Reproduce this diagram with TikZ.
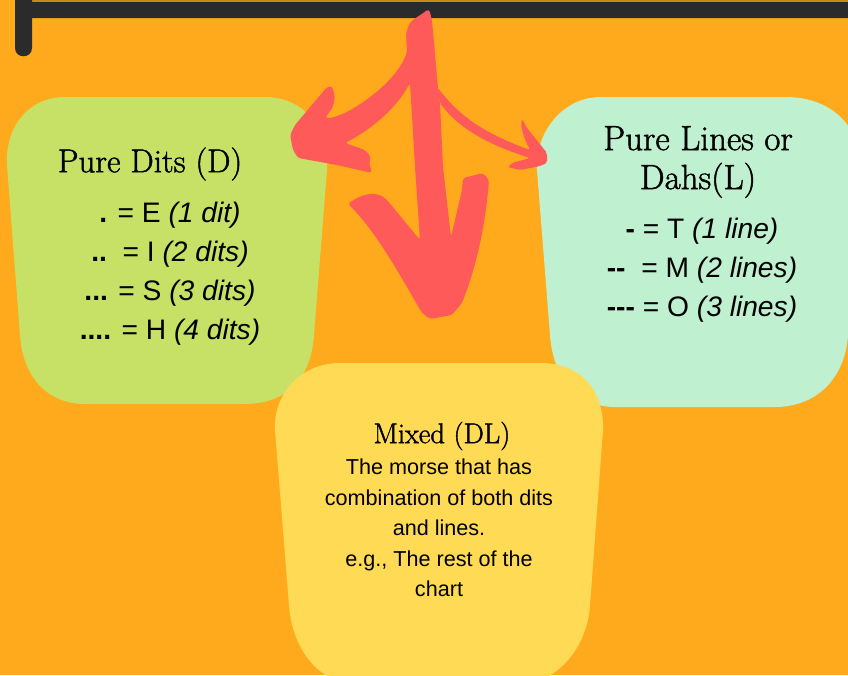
\documentclass[tikz,border=0pt]{standalone}
\usepackage{fontspec}
\setsansfont{Liberation Sans}
\newfontfamily\headfont[FakeBold=1.4]{Latin Modern Roman}
\definecolor{bgorange}{HTML}{FFAA1C}
\definecolor{bardark}{HTML}{2B2B2B}
\definecolor{coral}{HTML}{FF5A5A}
\definecolor{ditgreen}{HTML}{C7E166}
\definecolor{linemint}{HTML}{BFF0CF}
\definecolor{mixyellow}{HTML}{FFDA55}

\begin{document}
\begin{tikzpicture}[x=1pt,y=-1pt,
                    title node/.style={align=center,font=\headfont\fontsize{33}{39}\selectfont},
                    code node/.style={font=\sffamily\fontsize{28.2}{39}\selectfont},
                    body node/.style={align=center,font=\sffamily\fontsize{21.6}{30.5}\selectfont}]
  \useasboundingbox (0,0) rectangle (848,675);
  \clip (0,0) rectangle (848,675);
  \fill[bgorange] (0,0) rectangle (848,675);
  \fill[bgorange!80!black] (32,0) rectangle (848,2);
  % hanging bar
  \fill[bardark] (848,2) -- (32,2) -- (32,0) -- (15,0) -- (15,48) .. controls (15,59) and (32,59) .. (32,48) -- (32,18) -- (848,18) -- cycle;
  % the three blobs
  \fill[ditgreen] (65,97) -- (265,97) .. controls (305,97) and (329,130) .. (327,170)
    -- (314,335) .. controls (311,380) and (285,404) .. (245,404) -- (85,404)
    .. controls (50,404) and (23,380) .. (20,335) -- (7,165) .. controls (5,125) and (30,97) .. (65,97) -- cycle;
  \fill[linemint] (600,97) -- (785,97) .. controls (835,97) and (862,130) .. (860,170)
    -- (848,335) .. controls (845,380) and (815,407) .. (775,407) -- (615,407)
    .. controls (580,407) and (553,380) .. (550,335) -- (537,170) .. controls (535,130) and (565,97) .. (600,97) -- cycle;
  \fill[mixyellow] (340,363) -- (540,363) .. controls (585,363) and (604,395) .. (603,430)
    -- (590,605) .. controls (587,650) and (555,685) .. (515,685) -- (360,685)
    .. controls (320,685) and (292,650) .. (289,605) -- (275,430) .. controls (273,395) and (300,363) .. (340,363) -- cycle;
  % arrows
  \fill[coral,rounded corners=3pt] (429,9) -- (432,20) -- (438,88) -- (440,103) -- (443,167) -- (451,237)
    -- (462,190) -- (463,178) -- (483,173) -- (489,180) .. controls (485,230) and (475,270) .. (462,303) -- (452,315)
    -- (430,319) -- (422,313) .. controls (400,275) and (375,230) .. (348,204) .. controls (360,195) and (375,190) .. (387,200)
    -- (420,240) -- (415,167) -- (410,83) .. controls (395,110) and (370,130) .. (345,143) -- (365,150)
    -- (371,157) -- (369,163) -- (372,173) -- (337,165) -- (298,158) -- (293,150) -- (290,135) -- (295,125)
    -- (327,87) -- (332,86) -- (335,97) -- (333,107) -- (325,118) .. controls (345,118) and (395,85) .. (407,52)
    -- (406,33) -- (410,22) -- cycle;
  \fill[coral,rounded corners=2pt] (438,88) .. controls (455,110) and (475,130) .. (530,150)
    .. controls (525,140) and (520,128) .. (522,119) -- (527,128) -- (547,153) -- (547,163) -- (540,166) -- (520,170) -- (508,167) -- (512,163)
    -- (530,158) .. controls (490,145) and (460,130) .. (440,103) -- cycle;
  % labels of the blobs
  \node[title node] (dits) at (150,164) {Pure Dits (D)};
  \node[code node] (e) at (170,215) {\textbf{.} = E \textit{(1 dit)}};
  \node[code node] (i) at (170,254) {\textbf{..}\ \ = I \textit{(2 dits)}};
  \node[code node] (s) at (170,293) {\textbf{...} = S \textit{(3 dits)}};
  \node[code node] (h) at (170,332) {\textbf{....} = H \textit{(4 dits)}};
  \node[title node,font=\headfont\fontsize{35}{39}\selectfont] (lines) at (698,162) {Pure Lines or\\Dahs(L)};
  \node[code node] (t) at (702,231) {\textbf{-} = T \textit{(1 line)}};
  \node[code node] (m) at (702,270) {\textbf{{-}{-}}\ \ = M \textit{(2 lines)}};
  \node[code node] (o) at (702,309) {\textbf{{-}{-}{-}} = O \textit{(3 lines)}};
  \node[title node,font=\headfont\fontsize{28.5}{30}\selectfont] (mixed) at (442,436) {Mixed (DL)};
  \node[body node] (desc) at (439,528) {The morse that has\\combination of both dits\\and lines.\\e.g., The rest of the\\chart};
\end{tikzpicture}
\end{document}
